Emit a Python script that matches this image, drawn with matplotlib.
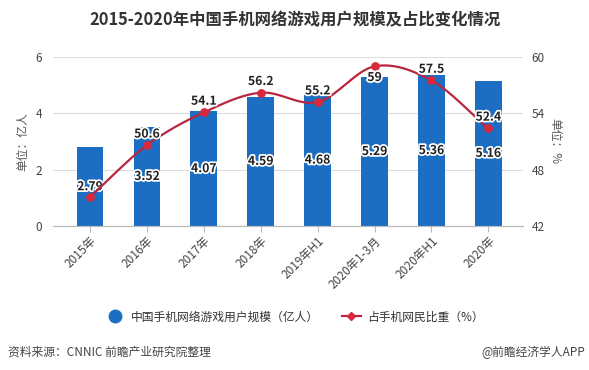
import numpy as np
import matplotlib.pyplot as plt
import matplotlib.patheffects as pe
from matplotlib.lines import Line2D

plt.rcParams['font.family'] = ['Noto Sans CJK SC', 'DejaVu Sans']

categories = ['2015年', '2016年', '2017年', '2018年', '2019年H1', '2020年1-3月', '2020年H1', '2020年']
users = [2.79, 3.52, 4.07, 4.59, 4.68, 5.29, 5.36, 5.16]
share = [45.1, 50.6, 54.1, 56.2, 55.2, 59.0, 57.5, 52.4]
share_labels = [None, '50.6', '54.1', '56.2', '55.2', '59', '57.5', '52.4']

bar_color = '#1b6ec2'
line_color = '#b8263f'
dot_color = '#d82a3c'


def smooth(xs, ys, n=30):
    # catmull-rom style curve through the points
    xs = np.asarray(xs, float)
    ys = np.asarray(ys, float)
    px = np.concatenate([[2 * xs[0] - xs[1]], xs, [2 * xs[-1] - xs[-2]]])
    py = np.concatenate([[2 * ys[0] - ys[1]], ys, [2 * ys[-1] - ys[-2]]])
    out_x, out_y = [], []
    t = np.linspace(0, 1, n)
    for i in range(1, len(px) - 2):
        for p, out in ((px, out_x), (py, out_y)):
            p0, p1, p2, p3 = p[i - 1], p[i], p[i + 1], p[i + 2]
            m1 = (p2 - p0) / 2
            m2 = (p3 - p1) / 2
            h00 = 2 * t**3 - 3 * t**2 + 1
            h10 = t**3 - 2 * t**2 + t
            h01 = -2 * t**3 + 3 * t**2
            h11 = t**3 - t**2
            out.extend(h00 * p1 + h10 * m1 + h01 * p2 + h11 * m2)
    return np.array(out_x), np.array(out_y)


fig = plt.figure(figsize=(5.89, 3.70), dpi=100)
ax = fig.add_axes([0.09, 0.389, 0.798, 0.457])
ax2 = ax.twinx()

x = np.arange(len(categories))
ax.bar(x, users, width=0.47, color=bar_color, zorder=2)
ax.set_xlim(-0.65, 7.61)
ax.set_ylim(0, 6)
ax.set_yticks([0, 2, 4, 6])
ax2.set_ylim(42, 60)
ax2.set_yticks([42, 48, 54, 60])

for a in (ax, ax2):
    for s in ['top', 'left', 'right']:
        a.spines[s].set_visible(False)
    a.spines['bottom'].set_color('#bbbbbb')
    a.tick_params(axis='y', length=0, labelsize=8.5, colors='#444444')
ax.grid(axis='y', color='#dddddd', linewidth=0.8, zorder=0)
ax.set_axisbelow(True)
ax.tick_params(axis='y', pad=8)
ax2.tick_params(axis='y', pad=6)

ax.set_xticks(x)
ax.set_xticklabels(categories, rotation=45, ha='right', rotation_mode='anchor',
                   fontsize=8.5, color='#444444')
ax.tick_params(axis='x', length=4, color='#bbbbbb', pad=2)

ax.set_ylabel('单位：亿人', fontsize=8.5, color='#555555', labelpad=4)
ax2.set_ylabel('单位：%', fontsize=8.5, color='#555555', rotation=-90, labelpad=12)

stroke = [pe.withStroke(linewidth=2.5, foreground='white')]
for xi, v in zip(x, users):
    ax.text(xi, v / 2, f'{v:.2f}', ha='center', va='center', fontsize=8.8,
            fontweight='bold', color='#222222', path_effects=stroke, zorder=5)

sx, sy = smooth(x, share)
ax2.plot(sx, sy, color=line_color, linewidth=1.6, zorder=3)
ax2.scatter(x, share, s=28, color=dot_color, zorder=4)
for xi, v, lab in zip(x, share, share_labels):
    if lab is None:
        continue
    if lab == '59':
        ax2.text(xi, v - 0.5, lab, ha='center', va='top', fontsize=8.8,
                 fontweight='bold', color='#222222', path_effects=stroke, zorder=6)
    else:
        ax2.text(xi, v + 0.5, lab, ha='center', va='bottom', fontsize=8.8,
                 fontweight='bold', color='#222222', path_effects=stroke, zorder=6)

fig.text(0.5, 0.945, '2015-2020年中国手机网络游戏用户规模及占比变化情况', ha='center',
         va='center', fontsize=11.8, fontweight='bold', color='#333333')

handles = [
    Line2D([], [], linestyle='none', marker='o', markersize=9, color=bar_color),
    Line2D([], [], color=line_color, linewidth=1.6, marker='D', markersize=4,
           markerfacecolor=dot_color, markeredgecolor=dot_color),
]
fig.legend(handles, ['中国手机网络游戏用户规模（亿人）', '占手机网民比重（%）'],
           loc='center', bbox_to_anchor=(0.5, 0.143), ncol=2, frameon=False,
           fontsize=8.5, handlelength=1.6, columnspacing=2.0, handletextpad=0.5,
           labelcolor='#333333')

fig.text(0.014, 0.048, '资料来源：CNNIC 前瞻产业研究院整理', fontsize=8.5, color='#444444',
         va='center', ha='left')
fig.text(0.993, 0.048, '@前瞻经济学人APP', fontsize=8.5, color='#444444',
         va='center', ha='right')

fig.savefig('out.png', dpi=100)
